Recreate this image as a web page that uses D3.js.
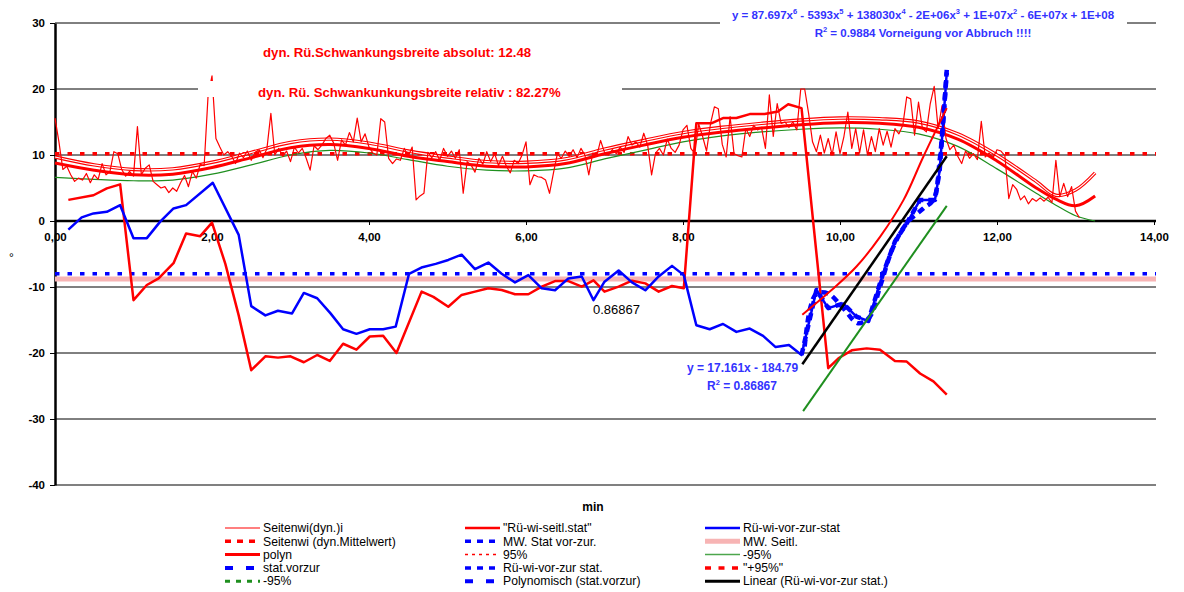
<!DOCTYPE html>
<html>
<head>
<meta charset="utf-8">
<script src="https://cdn.jsdelivr.net/npm/d3@7"></script>
<style>
  body { margin: 0; background: #fff; }
  svg { font-family: "Liberation Sans", Arial, sans-serif; }
  .axis .tick text { font-size: 11.5px; font-weight: bold; fill: #000; }
</style>
</head>
<body>
<div id="body"></div>
<script>
var xTicks = [0, 2, 4, 6, 8, 10, 12, 14];
var xTickLabels = ["0,00", "2,00", "4,00", "6,00", "8,00", "10,00", "12,00", "14,00"];
var yTicks = [30, 20, 10, 0, -10, -20, -30, -40];

// Seitenwi(dyn.)i, one value every 0.05 min
var dynStep = 0.05;
var dynValues = [
  15.6, 12.0, 7.8, 8.3, 7.0, 6.0, 6.5, 6.2, 7.2, 5.8,
  7.0, 6.3, 8.7, 7.0, 7.5, 10.5, 10.2, 7.8, 6.8, 7.5,
  6.8, 14.3, 7.0, 8.0, 8.5, 6.0, 5.5, 5.0, 5.2, 4.3,
  5.0, 4.5, 5.8, 6.9, 5.2, 7.5, 6.5, 8.6, 8.4, 19.0,
  22.0, 12.5, 11.2, 10.0, 10.5, 9.8, 8.7, 10.3, 9.6, 10.6,
  9.2, 10.4, 10.8, 9.6, 11.0, 16.3, 10.0, 11.0, 9.8, 10.6,
  9.0, 11.2, 10.3, 11.0, 9.5, 7.7, 11.4, 10.8, 11.5, 12.5,
  13.0, 11.8, 9.2, 12.3, 11.5, 13.4, 12.0, 15.6, 12.0, 13.2,
  11.2, 10.3, 10.0, 15.5, 15.0, 9.5, 8.7, 9.4, 9.2, 11.0,
  9.8, 11.2, 3.2, 3.8, 4.2, 10.4, 9.6, 10.5, 9.2, 11.0,
  9.8, 10.6, 9.5, 10.8, 4.2, 9.0, 8.5, 7.4, 9.5, 8.6,
  10.5, 9.0, 10.2, 8.4, 9.8, 8.3, 7.3, 9.2, 8.7, 10.0,
  12.0, 5.5, 7.0, 6.7, 6.6, 6.2, 4.2, 7.3, 10.2, 9.5,
  10.6, 9.8, 10.8, 9.6, 11.0, 10.0, 7.0, 10.3, 9.8, 12.2,
  10.4, 10.0, 10.8, 10.2, 11.2, 10.4, 12.8, 11.5, 12.0, 11.2,
  13.3, 11.5, 7.0, 10.3, 11.0, 10.0, 12.4, 11.0, 10.4, 11.5,
  13.8, 14.5, 11.0, 10.2, 14.7, 12.8, 10.6, 14.7, 17.3, 17.0,
  11.6, 9.7, 15.8, 10.2, 9.9, 9.7, 14.0, 12.8, 14.5, 13.8,
  14.2, 11.0, 19.1, 12.8, 17.8, 14.8, 15.0, 14.2, 15.0, 13.8,
  20.0, 20.0, 16.3, 12.0, 10.5, 13.0, 10.3, 12.5, 10.0, 13.5,
  10.2, 12.8, 16.5, 11.0, 14.0, 10.3, 13.8, 10.0, 12.8, 10.5,
  14.0, 11.5, 13.6, 11.2, 14.0, 13.2, 14.5, 18.8, 18.5, 13.0,
  18.0, 14.0, 13.5, 17.8, 20.4, 14.0, 17.5, 12.5, 10.8, 11.5,
  9.8, 8.7, 10.6, 9.5, 10.2, 9.3, 15.1, 9.7, 10.3, 9.6,
  10.8, 10.6, 9.9, 3.4, 5.5, 4.8, 3.2, 3.8, 2.6, 3.4,
  3.0, 3.5, 3.0, 3.6, 2.8, 9.2, 3.7, 5.7, 3.7, 5.2,
  1.5, 0.5
];

var mwSeitenwi = 10.2;
var mwStatVorZur = -8.0;
var mwSeitl = -8.8;

// polyn trend with 95% band
var trendT = [0, 0.5, 1, 1.5, 2, 2.5, 3, 3.5, 4, 4.5, 5, 5.5, 6, 6.5, 7, 7.5, 8, 8.5, 9, 9.5, 10, 10.5, 11, 11.5, 12, 12.5, 12.75, 13, 13.25];
var polynValues = [8.8, 7.7, 7.0, 7.1, 8.1, 9.6, 11.1, 11.6, 11.0, 9.8, 9.0, 8.3, 8.2, 8.7, 10.2, 11.5, 12.7, 13.5, 14.1, 14.6, 14.9, 14.8, 14.2, 12.4, 9.1, 5.0, 3.3, 2.3, 3.8];
var p95Values = [9.7, 8.5, 7.8, 7.9, 8.9, 10.4, 11.9, 12.4, 11.8, 10.6, 9.7, 9.0, 8.9, 9.4, 10.9, 12.2, 13.4, 14.2, 14.8, 15.3, 15.6, 15.5, 15.0, 13.2, 10.0, 6.0, 3.9, 4.7, 7.3];
var m95Values = [6.6, 6.3, 6.1, 6.2, 7.1, 8.5, 10.0, 10.7, 10.3, 9.3, 8.3, 7.7, 7.6, 8.0, 9.4, 10.7, 12.0, 12.9, 13.5, 13.9, 14.1, 13.9, 13.2, 11.3, 7.9, 4.2, 2.4, 0.8, 0.0];

// "Rü-wi-seitl.stat"
var seitlT = [0.17, 0.49, 0.66, 0.83, 1.0, 1.17, 1.32, 1.51, 1.67, 1.85, 2.0, 2.17, 2.34, 2.5, 2.68, 2.84, 3.0, 3.17, 3.34, 3.5, 3.67, 3.84, 4.01, 4.18, 4.35,
  4.67, 4.82, 5.01, 5.18, 5.35, 5.52, 5.69, 5.86, 6.03, 6.2, 6.37, 6.54, 6.71, 6.86, 7.0, 7.18, 7.35, 7.52, 7.69, 7.86, 8.01,
  8.17, 8.36, 8.51, 8.68, 8.85, 9.04, 9.21, 9.34, 9.51, 9.85, 9.98, 10.15, 10.34, 10.51, 10.7, 10.85, 11.02, 11.19, 11.36];
var seitlV = [3.2, 3.9, 4.95, 5.55, -12.0, -9.7, -8.7, -6.4, -1.9, -2.3, -0.25, -6.5, -14.3, -22.6, -20.5, -20.7, -20.5, -21.4, -20.3, -21.2, -18.6, -19.5, -17.5, -17.4, -20.0,
  -10.7, -11.5, -13.0, -11.2, -10.7, -10.2, -10.45, -11.1, -11.1, -9.95, -9.1, -9.1, -9.95, -9.0, -10.7, -9.95, -9.05, -9.45, -10.7, -9.85, -10.2,
  14.8, 14.8, 15.6, 15.6, 16.2, 16.2, 16.6, 17.7, 17.1, -22.3, -20.8, -19.6, -19.3, -19.5, -21.2, -21.3, -23.1, -24.3, -26.3];

// Rü-wi-vor-zur-stat
var vorzurT = [0.17, 0.34, 0.49, 0.66, 0.83, 1.0, 1.17, 1.34, 1.51, 1.67, 2.01, 2.34, 2.5, 2.68, 2.84, 3.02, 3.17, 3.34, 3.51, 3.67, 3.84, 4.01, 4.18, 4.34,
  4.51, 4.68, 4.85, 5.01, 5.18, 5.35, 5.52, 5.69, 5.86, 6.03, 6.2, 6.37, 6.54, 6.71, 6.86, 7.0, 7.18, 7.35, 7.52, 7.69, 7.86, 8.01,
  8.17, 8.34, 8.51, 8.68, 8.85, 9.02, 9.18, 9.35, 9.51, 9.7, 9.85, 10.04, 10.21, 10.36, 10.55, 10.7, 10.85, 11.02, 11.21, 11.27, 11.32, 11.36];
var vorzurV = [-1.3, 0.55, 1.15, 1.4, 2.4, -2.6, -2.6, -0.1, 1.9, 2.4, 5.8, -2.1, -12.9, -14.3, -13.6, -14.0, -10.9, -11.7, -14.0, -16.4, -17.1, -16.4, -16.4, -16.0,
  -8.0, -7.0, -6.5, -5.9, -5.1, -7.3, -6.3, -8.0, -9.3, -8.2, -10.2, -10.5, -8.7, -8.4, -12.0, -9.2, -7.5, -9.3, -10.5, -8.4, -6.8, -8.2,
  -15.8, -16.4, -15.6, -16.8, -16.3, -17.4, -19.1, -18.8, -20.3, -10.45, -13.2, -12.5, -14.5, -15.15, -7.9, -3.1, -0.35, 3.2, 3.2, 7.7, 15.8, 22.5];

// Polynomisch (stat.vorzur)
var polyStatT = [9.55, 9.62, 9.7, 9.85, 10.04, 10.23, 10.38, 10.51, 10.68, 10.85, 11.06, 11.19, 11.27, 11.32, 11.36];
var polyStatV = [-19.0, -13.2, -11.0, -11.0, -13.2, -15.5, -14.5, -9.95, -3.9, -0.35, 1.9, 3.2, 9.2, 16.3, 22.9];

// band around the linear trend, and the linear trend
var upperT = [9.52, 9.87, 10.21, 10.51, 10.81, 11.06, 11.36];
var upperV = [-14.2, -10.7, -6.9, -2.4, 3.2, 9.7, 17.1];
var lowerT = [9.53, 11.36];
var lowerV = [-28.8, 2.3];
var linearT = [9.52, 11.36];
var linearV = [-21.7, 9.8];

var legendLabels = [
  "Seitenwi(dyn.)i", "\"Rü-wi-seitl.stat\"", "Rü-wi-vor-zur-stat",
  "Seitenwi (dyn.Mittelwert)", "MW. Stat vor-zur.", "MW. Seitl.",
  "polyn", "95%", "-95%",
  "stat.vorzur", "Rü-wi-vor-zur stat.", "\"+95%\"",
  "-95%", "Polynomisch (stat.vorzur)", "Linear (Rü-wi-vor-zur stat.)"
];

var margin = {top: 23, left: 55},
  width = 1099,
  height = 462;

var svg = d3.select("#body")
  .append("svg")
  .attr("width", 1184)
  .attr("height", 592);

svg.append("rect").attr("width", 1184).attr("height", 592).attr("fill", "#fff");

var chart = svg.append("g")
  .attr("transform", "translate(" + margin.left + "," + margin.top + ")");

var x = d3.scaleLinear().domain([0, 14]).range([0, width]);
var y = d3.scaleLinear().domain([-40, 30]).range([height, 0]);

function pairs(ts, vs) {
  return ts.map(function(t, i) { return [t, vs[i]]; });
}

var line = d3.line()
  .x(function(d) { return x(d[0]); })
  .y(function(d) { return y(d[1]); });

var smooth = d3.line()
  .curve(d3.curveCatmullRom)
  .x(function(d) { return x(d[0]); })
  .y(function(d) { return y(d[1]); });

// gridlines
chart.selectAll(".grid")
  .data(yTicks.filter(function(d) { return d !== 0; }))
  .enter().append("line")
  .attr("class", "grid")
  .attr("x1", 0)
  .attr("x2", width + 2)
  .attr("y1", function(d) { return y(d); })
  .attr("y2", function(d) { return y(d); })
  .attr("stroke", function(d) { return d === -40 ? "#808080" : "#000"; })
  .attr("stroke-width", function(d) { return d === -40 ? 2 : 1; });

// axes
var xAxis = chart.append("g")
  .attr("class", "axis")
  .attr("transform", "translate(0," + y(0) + ")")
  .call(d3.axisBottom(x).tickValues(xTicks)
    .tickFormat(function(d, i) { return xTickLabels[i]; })
    .tickSize(4).tickSizeOuter(0).tickPadding(8));
xAxis.select(".domain").attr("stroke-width", 2.5).attr("d", "M0,0H" + (width + 2));

var yAxis = chart.append("g")
  .attr("class", "axis")
  .call(d3.axisLeft(y).tickValues(yTicks)
    .tickFormat(function(d) { return String(d); })
    .tickSize(5).tickSizeOuter(0).tickPadding(5));
yAxis.select(".domain").attr("stroke-width", 2.5);

// mean lines
function hline(v, stroke, w, dash) {
  chart.append("line")
    .attr("x1", 0).attr("x2", width + 2)
    .attr("y1", y(v)).attr("y2", y(v))
    .attr("stroke", stroke)
    .attr("stroke-width", w)
    .attr("stroke-dasharray", dash || null);
}
hline(mwSeitl, "#f7b4b4", 5);
hline(mwStatVorZur, "#0000ff", 3.5, "4.5,8");
hline(mwSeitenwi, "#ff0000", 3.5, "4.5,8");

function path(data, gen, stroke, w, dash) {
  return chart.append("path")
    .datum(data)
    .attr("fill", "none")
    .attr("stroke", stroke)
    .attr("stroke-width", w)
    .attr("stroke-linejoin", "round")
    .attr("stroke-dasharray", dash || null)
    .attr("d", gen);
}

// polyn band
path(pairs(trendT, m95Values), smooth, "#1f8f1f", 1.2);
path(pairs(trendT, p95Values), smooth, "#ff0000", 3.4);
path(pairs(trendT, p95Values), smooth, "#ffffff", 1.2);
path(pairs(trendT, polynValues), smooth, "#ff0000", 3);

// raw dynamic series
var dynData = dynValues.map(function(v, i) { return [i * dynStep, v]; });
path(dynData, line, "#ff0000", 1.2);

// static series
path(pairs(seitlT, seitlV), line, "#ff0000", 2.5);
path(pairs(vorzurT, vorzurV), line, "#0000ff", 2.5);

var statData = pairs(vorzurT, vorzurV).filter(function(d) { return d[0] >= 9.5; });
path(statData, line, "#0000ff", 4.5, "7,5");
path(pairs(polyStatT, polyStatV), smooth, "#0000ff", 4.5, "7,5");

path(pairs(upperT, upperV), smooth, "#ff0000", 2);
path(pairs(lowerT, lowerV), line, "#1f8f1f", 2);
path(pairs(linearT, linearV), line, "#000000", 2.5);

// annotations
svg.append("rect").attr("x", 198).attr("y", 81).attr("width", 424).attr("height", 16).attr("fill", "#fff");
svg.append("rect").attr("x", 720).attr("y", 2).attr("width", 407).attr("height", 40).attr("fill", "#fff");

svg.append("text")
  .attr("x", 263).attr("y", 57)
  .attr("fill", "#ff0000").attr("font-weight", "bold").attr("font-size", "13.2px")
  .text("dyn. Rü.Schwankungsbreite absolut: 12.48");
svg.append("text")
  .attr("x", 258).attr("y", 97)
  .attr("fill", "#ff0000").attr("font-weight", "bold").attr("font-size", "13.2px")
  .text("dyn. Rü. Schwankunkungsbreite relativ : 82.27%");

// text with superscripts: pairs of [normal, superscript]
function supText(sel, parts) {
  var up = false;
  parts.forEach(function(p) {
    sel.append("tspan").attr("dy", up ? 5 : 0).text(p[0]);
    up = false;
    if (p[1]) {
      sel.append("tspan").attr("font-size", "7.5px").attr("dy", -5).text(p[1]);
      up = true;
    }
  });
}

var eq = svg.append("text")
  .attr("x", 923).attr("y", 19)
  .attr("text-anchor", "middle")
  .attr("fill", "#3333ff").attr("font-weight", "bold").attr("font-size", "11.5px");
supText(eq, [["y = 87.697x", "6"], [" - 5393x", "5"], [" + 138030x", "4"], [" - 2E+06x", "3"], [" + 1E+07x", "2"], [" - 6E+07x + 1E+08", ""]]);

var r2 = svg.append("text")
  .attr("x", 923).attr("y", 37)
  .attr("text-anchor", "middle")
  .attr("fill", "#3333ff").attr("font-weight", "bold").attr("font-size", "11.5px");
supText(r2, [["R", "2"], [" = 0.9884 Vorneigung vor Abbruch !!!!", ""]]);

svg.append("text")
  .attr("x", 593).attr("y", 314)
  .attr("fill", "#000").attr("font-size", "13px")
  .text("0.86867");

svg.append("text")
  .attr("x", 687).attr("y", 372)
  .attr("fill", "#3333ff").attr("font-weight", "bold").attr("font-size", "12px")
  .text("y = 17.161x - 184.79");
var r2b = svg.append("text")
  .attr("x", 707).attr("y", 390)
  .attr("fill", "#3333ff").attr("font-weight", "bold").attr("font-size", "12px");
supText(r2b, [["R", "2"], [" = 0.86867", ""]]);

// axis titles
svg.append("text")
  .attr("x", 9).attr("y", 262)
  .attr("font-size", "12px")
  .text("°");
svg.append("text")
  .attr("x", 593).attr("y", 511)
  .attr("text-anchor", "middle")
  .attr("font-weight", "bold").attr("font-size", "12px")
  .text("min");

// legend
var legendStyles = [
  {stroke: "#ff0000", w: 1.2},
  {stroke: "#ff0000", w: 2.5},
  {stroke: "#0000ff", w: 2.5},
  {stroke: "#ff0000", w: 3.5, dash: "6,6"},
  {stroke: "#0000ff", w: 3.5, dash: "6,6"},
  {stroke: "#f7b4b4", w: 5},
  {stroke: "#ff0000", w: 3},
  {stroke: "#ff0000", w: 1.5, dash: "3,4"},
  {stroke: "#4ca64c", w: 1.5},
  {stroke: "#0000ff", w: 4, dash: "8,13"},
  {stroke: "#0000ff", w: 3.5, dash: "6,6"},
  {stroke: "#ff0000", w: 3.5, dash: "6,7.5"},
  {stroke: "#1f8f1f", w: 3, dash: "5,6"},
  {stroke: "#0000ff", w: 4, dash: "8,13"},
  {stroke: "#000000", w: 3}
];
var colX = [225, 465, 705];
var rowY = [528, 541.3, 554.6, 567.9, 581.2];

var legend = svg.append("g");
legendLabels.forEach(function(label, i) {
  var lx = colX[i % 3], ly = rowY[Math.floor(i / 3)], s = legendStyles[i];
  legend.append("line")
    .attr("x1", lx).attr("x2", lx + 35)
    .attr("y1", ly).attr("y2", ly)
    .attr("stroke", s.stroke)
    .attr("stroke-width", s.w)
    .attr("stroke-dasharray", s.dash || null);
  legend.append("text")
    .attr("x", lx + 38).attr("y", ly)
    .attr("dy", "0.35em")
    .attr("font-size", "12.2px")
    .text(label);
});
</script>
</body>
</html>
